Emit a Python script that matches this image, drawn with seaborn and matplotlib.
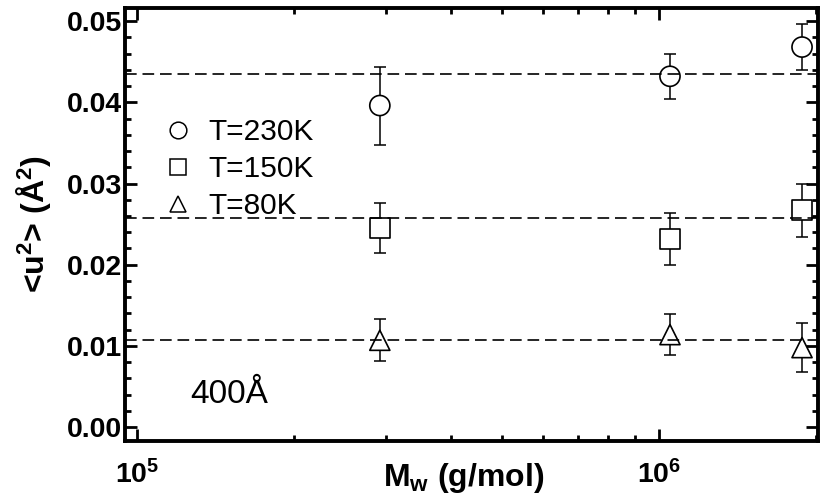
import numpy as np
import pandas as pd
import matplotlib
matplotlib.use("Agg")
import matplotlib.pyplot as plt
from matplotlib.lines import Line2D
from matplotlib.ticker import (LogLocator, MultipleLocator, FuncFormatter,
                               NullFormatter, FormatStrFormatter)
import seaborn as sns

# Weight-average molecular weight of the samples (g/mol)
mw = [2.92e5, 1.05e6, 1.88e6]

# Mean-square displacement <u^2> (Å^2) and its uncertainty per temperature
temps = ["T=230K", "T=150K", "T=80K"]
u2_230 = [0.0396, 0.0432, 0.0468]
err_230 = [0.0048, 0.0028, 0.0028]
u2_150 = [0.0245, 0.0232, 0.0267]
err_150 = [0.0031, 0.0032, 0.0033]
u2_80 = [0.0107, 0.0114, 0.0098]
err_80 = [0.0026, 0.0025, 0.0030]

# Average level drawn as a dashed guide for each temperature
mean_levels = [0.0435, 0.0257, 0.0107]

marker_shapes = ["o", "s", "^"]

df = pd.DataFrame({
    "Mw": mw * 3,
    "u2": u2_230 + u2_150 + u2_80,
    "err": err_230 + err_150 + err_80,
    "T": [t for t in temps for _ in mw],
})

sns.set_theme(style="ticks", rc={
    "axes.edgecolor": "black",
    "xtick.color": "black",
    "ytick.color": "black",
    "text.color": "black",
    "axes.labelcolor": "black",
})
plt.rcParams["font.family"] = ["Liberation Sans", "DejaVu Sans"]
plt.rcParams["font.weight"] = "bold"
plt.rcParams["mathtext.fontset"] = "custom"
plt.rcParams["mathtext.rm"] = "Liberation Sans:bold"
plt.rcParams["mathtext.bf"] = "Liberation Sans:bold"
plt.rcParams["mathtext.it"] = "Liberation Sans:bold:italic"

fig = plt.figure(figsize=(8.24, 5.04), dpi=100)
ax = fig.add_axes([0.1517, 0.125, 0.841, 0.859])

# error bars
for t in temps:
    sub = df[df["T"] == t]
    ax.errorbar(sub["Mw"], sub["u2"], yerr=sub["err"], fmt="none",
                ecolor="black", elinewidth=1.1, capsize=4.5, capthick=1.1,
                zorder=2)

# hollow symbols
sns.scatterplot(data=df, x="Mw", y="u2", style="T", style_order=temps,
                markers=dict(zip(temps, marker_shapes)), s=210,
                color="white", edgecolor="black", linewidth=1.2,
                legend=False, zorder=3, ax=ax)

# dashed average levels
for lvl in mean_levels:
    ax.axhline(lvl, color="black", lw=1.2, dashes=(7, 3.5), zorder=4)

ax.set_xscale("log")
ax.set_xlim(9.49e4, 2.017e6)
ax.set_ylim(-0.0017, 0.0516)

ax.xaxis.set_major_locator(LogLocator(base=10, numticks=10))
ax.xaxis.set_minor_locator(LogLocator(base=10, subs=np.arange(2, 10), numticks=20))
ax.xaxis.set_major_formatter(FuncFormatter(
    lambda v, p: r"$\mathbf{10^{%d}}$" % int(round(np.log10(v)))))
ax.xaxis.set_minor_formatter(NullFormatter())
ax.yaxis.set_major_locator(MultipleLocator(0.01))
ax.yaxis.set_minor_locator(MultipleLocator(0.002))
ax.yaxis.set_major_formatter(FormatStrFormatter("%.2f"))

ax.tick_params(which="both", direction="in", top=True, right=True, width=2)
ax.tick_params(which="major", length=8.6, labelsize=20.5)
ax.tick_params(which="minor", length=4.3)
ax.tick_params(axis="x", which="major", pad=14)
ax.tick_params(axis="y", which="major", pad=2)

for sp in ax.spines.values():
    sp.set_linewidth(2.8)
    sp.set_visible(True)

ax.set_xlabel(r"M$_{\mathbf{w}}$ (g/mol)", fontsize=23, fontweight="bold")
ax.xaxis.set_label_coords(0.489, -0.046)
ax.set_ylabel(r"<u$^{2}$> (Å$^{2}$)", fontsize=23, fontweight="bold")
ax.yaxis.set_label_coords(-0.104, 0.5)

handles = [Line2D([], [], marker=m, ls="none", mfc="none", mec="black",
                  mew=1.1, ms=12) for m in marker_shapes]
ax.legend(handles, temps, loc="upper left", bbox_to_anchor=(0.055, 0.745),
          frameon=False, prop={"weight": "normal", "size": 21.5},
          handlelength=1.0, handletextpad=0.5, labelspacing=0.3,
          borderaxespad=0, borderpad=0)

ax.text(0.094, 0.088, "400Å", transform=ax.transAxes, fontsize=24,
        fontweight="normal", va="baseline", ha="left")

fig.savefig("out.png", dpi=100)
